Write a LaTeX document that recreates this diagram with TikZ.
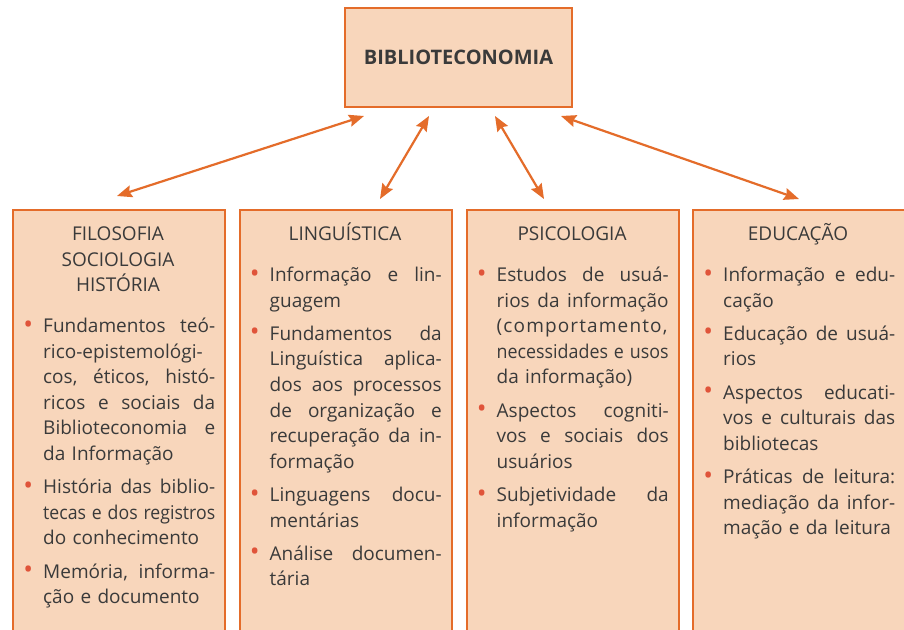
\documentclass[tikz,border=0pt]{standalone}
\usepackage{fontspec}
\setmainfont{Open Sans}
\usepackage{graphicx}
\usetikzlibrary{arrows.meta}
\definecolor{org}{RGB}{228,108,42}
\definecolor{peach}{RGB}{248,214,187}
\definecolor{bul}{RGB}{224,84,58}
\definecolor{txt}{RGB}{58,58,58}
\newlength\colw
\setlength\colw{172pt}
\newcommand\jl[1]{\sbox0{#1}\ifdim\wd0>\colw\resizebox{\colw}{\height}{#1}\else\makebox[\colw][s]{\spaceskip=0.26em plus 1fil\relax #1}\fi}
\newcommand\bul{\leavevmode\llap{\textcolor{bul}{\fontsize{26}{26}\selectfont\raisebox{-0.5pt}{•}}\hspace{10pt}}}
\tikzset{
  box/.style={draw=org, line width=2pt, fill=peach, rectangle, inner sep=0pt, anchor=north west, minimum width=212pt, minimum height=440pt},
  topbox/.style={draw=org, line width=2pt, fill=peach, rectangle, inner sep=0pt, minimum width=227pt, minimum height=99pt, text=txt, font=\fontsize{20}{24}\selectfont\bfseries},
  title/.style={anchor=base, align=center, inner sep=0pt, text=txt, font=\fontsize{19}{25.6}\selectfont},
  items/.style={anchor=base west, align=left, text width=172pt, inner sep=0pt, text=txt, font=\fontsize{19}{25.6}\selectfont},
  dbl/.style={draw=org, line width=2.2pt, {Stealth[length=15pt,width=12pt,inset=2pt]}-{Stealth[length=15pt,width=12pt,inset=2pt]}}
}
\begin{document}
\begin{tikzpicture}[x=1pt,y=-1pt]
\useasboundingbox (0,0) rectangle (904,629);
\clip (0,0) rectangle (904,629);
\fill[white] (0,0) rectangle (904,629);

\node[topbox] (top) at (458.5,57.5) {BIBLIOTECONOMIA};

\node[box] (b1) at (12,209) {};
\node[box] (b2) at (238.5,209) {};
\node[box] (b3) at (465.5,209) {};
\node[box] (b4) at (692,209) {};

\coordinate (a1t) at (364,116);
\coordinate (a1b) at (117,196);
\coordinate (a2t) at (429,116);
\coordinate (a2b) at (380,199);
\coordinate (a3t) at (495,116);
\coordinate (a3b) at (544,199);
\coordinate (a4t) at (561,116);
\coordinate (a4b) at (799,199);
\draw[dbl] (a1t) -- (a1b);
\draw[dbl] (a2t) -- (a2b);
\draw[dbl] (a3t) -- (a3b);
\draw[dbl] (a4t) -- (a4b);

\node[title] (t1) at (118,291.7) {FILOSOFIA\\SOCIOLOGIA\\HISTÓRIA};
\node[title] (t2) at (345,240.5) {LINGUÍSTICA};
\node[title] (t3) at (572,240.5) {PSICOLOGIA};
\node[title] (t4) at (798,240.5) {EDUCAÇÃO};

\node[items] (i1) at (43,332.5) {%
\bul\jl{Fundamentos teó-}\\
\jl{rico-epistemológi-}\\
\jl{cos, éticos, histó-}\\
\jl{ricos e sociais da}\\
\jl{Biblioteconomia e}\\
da Informação\\[7.6pt]
\bul\jl{História das biblio-}\\
\jl{tecas e dos registros}\\
do conhecimento\\[7.6pt]
\bul\jl{Memória, informa-}\\
ção e documento};

\node[items] (i2) at (269.5,281.5) {%
\bul\jl{Informação e lin-}\\
guagem\\[7.6pt]
\bul\jl{Fundamentos da}\\
\jl{Linguística aplica-}\\
\jl{dos aos processos}\\
\jl{de organização e}\\
\jl{recuperação da in-}\\
formação\\[7.6pt]
\bul\jl{Linguagens docu-}\\
mentárias\\[7.6pt]
\bul\jl{Análise documen-}\\
tária};

\node[items] (i3) at (496.5,281.5) {%
\bul\jl{Estudos de usuá-}\\
\jl{rios da informação}\\
{\addfontfeature{LetterSpace=6}(comportamento,}\\
\jl{necessidades e usos}\\
da informação)\\[7.6pt]
\bul\jl{Aspectos cogniti-}\\
\jl{vos e sociais dos}\\
usuários\\[7.6pt]
\bul\jl{Subjetividade da}\\
informação};

\node[items] (i4) at (723,281.5) {%
\bul\jl{Informação e edu-}\\
cação\\[7.6pt]
\bul\jl{Educação de usuá-}\\
rios\\[7.6pt]
\bul\jl{Aspectos educati-}\\
\jl{vos e culturais das}\\
bibliotecas\\[7.6pt]
\bul\jl{Práticas de leitura:}\\
\jl{mediação da infor-}\\
mação e da leitura};
\end{tikzpicture}
\end{document}
